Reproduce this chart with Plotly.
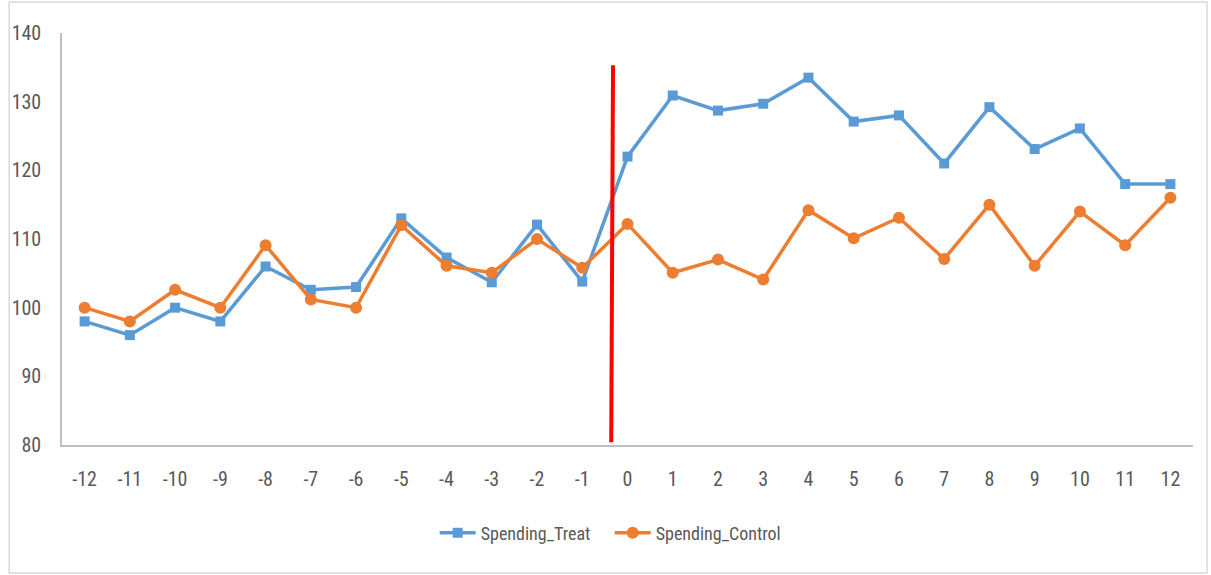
import plotly.graph_objects as go

periods = list(range(-12, 13))
period_labels = [str(p) for p in periods]
spending_treat = [98, 96, 100, 98, 106, 102.6, 103, 113, 107.3, 103.7, 112.1, 103.8,
                  122, 130.9, 128.7, 129.7, 133.5, 127.1, 128, 121, 129.2, 123.1, 126.1, 118, 118]
spending_control = [100, 98, 102.6, 100, 109.1, 101.2, 100, 112, 106.1, 105.1, 110, 105.8,
                    112.2, 105.1, 107, 104.1, 114.2, 110.1, 113.1, 107.1, 115, 106.1, 114, 109.1, 116]
y_ticks = [80, 90, 100, 110, 120, 130, 140]
cutoff_x = [-0.32, -0.36]
cutoff_y = [135.3, 80.4]

FONT = "Liberation Sans Narrow, Arial Narrow, Roboto Condensed, sans-serif"
GRAY = "#595959"

fig = go.Figure()
fig.add_trace(go.Scatter(
    x=periods, y=spending_treat, mode="lines+markers", name="Spending_Treat",
    line=dict(color="#5B9BD5", width=3.5),
    marker=dict(symbol="square", size=10, color="#5B9BD5"),
))
fig.add_trace(go.Scatter(
    x=periods, y=spending_control, mode="lines+markers", name="Spending_Control",
    line=dict(color="#ED7D31", width=3.5),
    marker=dict(symbol="circle", size=12, color="#ED7D31"),
))
fig.add_trace(go.Scatter(
    x=cutoff_x, y=cutoff_y, mode="lines", showlegend=False, hoverinfo="skip",
    line=dict(color="#FF0000", width=4),
))

L, R, T, B = 58, 18, 33, 130
W, H = 1211, 575
pw, ph = W - L - R, H - T - B

def px_x(v):
    return (v - L) / pw

def px_y(v):
    return (H - B - v) / ph

fig.add_shape(type="rect", xref="paper", yref="paper",
              x0=px_x(5), x1=px_x(1207), y0=px_y(573), y1=px_y(2),
              line=dict(color="#D9D9D9", width=1.5), layer="below")

fig.update_layout(
    width=W, height=H,
    margin=dict(l=L, r=R, t=T, b=B),
    paper_bgcolor="white", plot_bgcolor="white",
    font=dict(family=FONT, size=20, color=GRAY),
    showlegend=True,
    legend=dict(orientation="h", x=px_x(432), xanchor="left", y=px_y(533), yanchor="middle",
                font=dict(family=FONT, size=18, color=GRAY), itemwidth=36,
                entrywidth=124, tracegroupgap=0),
    xaxis=dict(range=[-12.5, 12.5], tickvals=periods, ticktext=period_labels,
               showgrid=False, zeroline=False, showline=True, linecolor="#BFBFBF",
               linewidth=2, ticks="", tickfont=dict(family=FONT, size=20, color=GRAY),
               ticklabelstandoff=15),
    yaxis=dict(range=[80, 140], tickvals=y_ticks, showgrid=False, zeroline=False,
               showline=True, linecolor="#BFBFBF", linewidth=1.5, ticks="",
               tickfont=dict(family=FONT, size=20, color=GRAY), ticklabelstandoff=15),
)

fig.write_html("out.html")
